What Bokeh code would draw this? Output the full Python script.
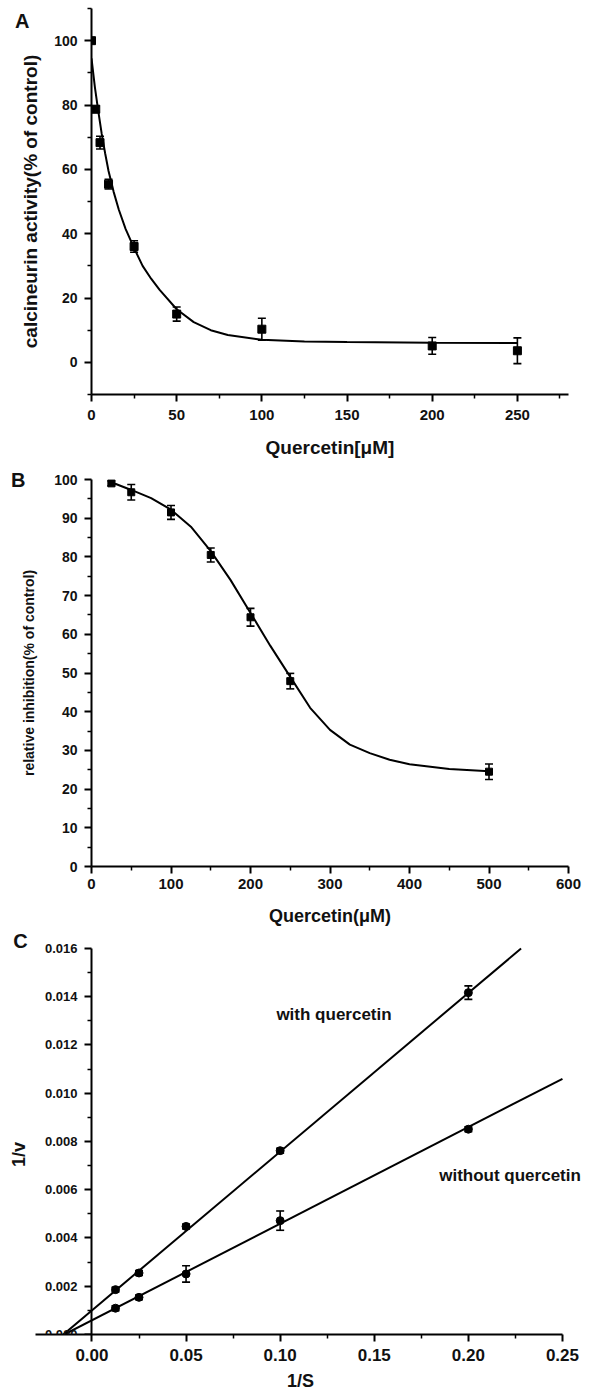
import math
from bokeh.plotting import figure
from bokeh.layouts import column
from bokeh.models import (ColumnDataSource, Whisker, TeeHead, FixedTicker, Label,
                          LinearAxis, PrintfTickFormatter, Range1d, Plot)
from bokeh.embed import file_html
from bokeh.resources import INLINE

FONT = "Liberation Sans"
INK = "#111111"

# ---------------- Panel A data ----------------
a_conc = [0, 2.5, 5, 10, 25, 50, 100, 200, 250]
a_activity = [100, 78.7, 68.3, 55.4, 36.0, 15.0, 10.3, 5.1, 3.6]
a_err = [0, 1.0, 2.0, 1.5, 1.8, 2.2, 3.4, 2.6, 4.0]
a_fit_x = [0, 2, 4, 6, 8, 10, 13, 16, 20, 25, 30, 35, 40, 50, 60, 70, 80, 100, 125, 150, 200, 250]
a_fit_y = [94.5, 85.5, 78.0, 71.0, 65.0, 59.5, 53.0, 47.5, 41.5, 35.5, 30.0, 26.0, 22.5,
           16.5, 12.5, 10.0, 8.5, 7.0, 6.5, 6.3, 6.1, 6.0]
a_xticks = [0, 50, 100, 150, 200, 250]
a_xminor = [25, 75, 125, 175, 225, 275]
a_yticks = [0, 20, 40, 60, 80, 100]
a_yminor = [-10, 10, 30, 50, 70, 90, 110]

# ---------------- Panel B data ----------------
b_conc = [25, 50, 100, 150, 200, 250, 500]
b_inhib = [99.0, 96.7, 91.5, 80.5, 64.4, 47.9, 24.5]
b_err = [0.6, 2.0, 1.8, 1.8, 2.3, 2.0, 2.0]
b_fit_x = [25, 50, 75, 100, 125, 150, 175, 200, 225, 250, 275, 300, 325, 350, 375, 400, 450, 500]
b_fit_y = [99.3, 97.3, 95.2, 92.2, 87.8, 81.5, 74.0, 65.5, 57.0, 49.0, 41.0, 35.3, 31.5,
           29.3, 27.6, 26.4, 25.2, 24.6]
b_xticks = [0, 100, 200, 300, 400, 500, 600]
b_xminor = [50, 150, 250, 350, 450, 550]
b_yticks = [0, 10, 20, 30, 40, 50, 60, 70, 80, 90, 100]
b_yminor = [5, 15, 25, 35, 45, 55, 65, 75, 85, 95]

# ---------------- Panel C data ----------------
c_inv_s = [0.0125, 0.025, 0.05, 0.1, 0.2]
c_with = [0.00186, 0.00255, 0.00448, 0.00762, 0.01417]
c_with_err = [0.0001, 0.0001, 0.0001, 0.0001, 0.00028]
c_without = [0.00109, 0.00154, 0.00251, 0.00472, 0.00851]
c_without_err = [0.0001, 0.0001, 0.00034, 0.0004, 0.0001]
c_with_line_x = [-0.0152, 0.228]
c_with_line_y = [0.0, 0.016]
c_without_line_x = [-0.0147, 0.25]
c_without_line_y = [0.0, 0.0106]
c_xticks = [0.0, 0.05, 0.10, 0.15, 0.20, 0.25]
c_xminor = [0.025, 0.075, 0.125, 0.175, 0.225]
c_yticks = [0.0, 0.002, 0.004, 0.006, 0.008, 0.010, 0.012, 0.014, 0.016]
c_yminor = [0.001, 0.003, 0.005, 0.007, 0.009, 0.011, 0.013, 0.015]

HAS_FRAME_ALIGN = "frame_align" in Plot.properties()


def make_fig(xr, yr, fw, fh, left, right, top, bottom, **kw):
    p = figure(x_range=Range1d(*xr), y_range=Range1d(*yr), frame_width=fw, frame_height=fh,
               min_border_left=left, min_border_right=right, min_border_top=top,
               min_border_bottom=bottom, output_backend="svg", toolbar_location=None, **kw)
    if HAS_FRAME_ALIGN:
        p.frame_align = False
    p.xgrid.visible = False
    p.ygrid.visible = False
    p.outline_line_color = None
    p.background_fill_color = "white"
    p.border_fill_color = "white"
    return p


def style_axis(ax, tick_size, label_size, label_standoff, tick_standoff=6):
    ax.axis_line_width = 2
    ax.axis_line_color = "black"
    ax.major_tick_line_width = 2
    ax.major_tick_line_color = "black"
    ax.minor_tick_line_width = 1.5
    ax.minor_tick_line_color = "black"
    ax.major_tick_in = 0
    ax.major_tick_out = 7
    ax.minor_tick_in = 0
    ax.minor_tick_out = 4
    ax.major_label_standoff = tick_standoff
    ax.major_label_text_font = FONT
    ax.major_label_text_font_style = "bold"
    ax.major_label_text_font_size = f"{tick_size}px"
    ax.major_label_text_color = INK
    ax.axis_label_text_font = FONT
    ax.axis_label_text_font_style = "bold"
    ax.axis_label_text_font_size = f"{label_size}px"
    ax.axis_label_text_color = INK
    ax.axis_label_standoff = label_standoff


def add_points(p, xs, ys, errs, marker, size):
    src = ColumnDataSource(dict(x=xs, y=ys,
                                upper=[y + e for y, e in zip(ys, errs)],
                                lower=[y - e for y, e in zip(ys, errs)]))
    w = Whisker(source=src, base="x", upper="upper", lower="lower", dimension="height",
                line_width=1.6, line_color="black",
                upper_head=TeeHead(size=8, line_width=1.6, line_color="black"),
                lower_head=TeeHead(size=8, line_width=1.6, line_color="black"))
    p.add_layout(w)
    p.scatter("x", "y", source=src, marker=marker, size=size, color="black")


def letter_axis(p, y, t, standoff):
    # panel letter, shown as the single label of a bare extra axis
    ax = LinearAxis(ticker=FixedTicker(ticks=[y], minor_ticks=[]),
                    major_label_overrides={y: t})
    ax.axis_line_color = None
    ax.major_tick_line_color = None
    ax.minor_tick_line_color = None
    ax.major_tick_in = 0
    ax.major_tick_out = 0
    ax.minor_tick_in = 0
    ax.minor_tick_out = 0
    ax.major_label_standoff = standoff
    ax.major_label_text_font = FONT
    ax.major_label_text_font_style = "bold"
    ax.major_label_text_font_size = "20px"
    ax.major_label_text_color = INK
    p.add_layout(ax, "left")


# ---------------- Panel A ----------------
pA = make_fig((0, 280), (-10, 110), 477, 386, 91, 37, 8, 71)
pA.line(a_fit_x, a_fit_y, line_width=2, color="black")
add_points(pA, a_conc, a_activity, a_err, "square", 8)
pA.xaxis.ticker = FixedTicker(ticks=a_xticks, minor_ticks=a_xminor)
pA.yaxis.ticker = FixedTicker(ticks=a_yticks, minor_ticks=a_yminor)
pA.xaxis.axis_label = "Quercetin[\u03bcM]"
pA.yaxis.axis_label = "calcineurin activity(% of control)"
style_axis(pA.xaxis[0], 15, 19, 14, 8)
style_axis(pA.yaxis[0], 14, 19, 10, 7)
letter_axis(pA, 106, "A", -12)

# ---------------- Panel B ----------------
pB = make_fig((0, 600), (0, 100), 477, 387, 91, 37, 14, 60)
pB.line(b_fit_x, b_fit_y, line_width=2, color="black")
add_points(pB, b_conc, b_inhib, b_err, "square", 7)
pB.xaxis.ticker = FixedTicker(ticks=b_xticks, minor_ticks=b_xminor)
pB.yaxis.ticker = FixedTicker(ticks=b_yticks, minor_ticks=b_yminor)
pB.xaxis.axis_label = "Quercetin(\u03bcM)"
pB.yaxis.axis_label = "relative inhibition(% of control)"
style_axis(pB.xaxis[0], 15, 18, 14, 5)
style_axis(pB.yaxis[0], 14, 14, 14, 7)
letter_axis(pB, 100, "B", -7)

# ---------------- Panel C ----------------
C_X0, C_PX = -0.0486, 1882.0          # frame left value, pixels per unit
C_FW = 600
C_X1 = C_X0 + C_FW / C_PX
C_Y1 = 0.016829
pC = make_fig((C_X0, C_X1), (0, C_Y1), C_FW, 406, 0, 4, 0, 63, y_axis_location=None)
yax = LinearAxis(fixed_location=0, bounds=(0, 0.016))
pC.add_layout(yax, "right")
pC.xaxis.bounds = (-0.03, 0.25)
pC.line(c_with_line_x, c_with_line_y, line_width=2, color="black")
pC.line(c_without_line_x, c_without_line_y, line_width=2, color="black")
add_points(pC, c_inv_s, c_with, c_with_err, "circle", 8)
add_points(pC, c_inv_s, c_without, c_without_err, "circle", 8)
pC.xaxis.ticker = FixedTicker(ticks=c_xticks, minor_ticks=c_xminor)
yax.ticker = FixedTicker(ticks=c_yticks, minor_ticks=c_yminor)
pC.xaxis.formatter = PrintfTickFormatter(format="%.2f")
yax.formatter = PrintfTickFormatter(format="%.3f")
pC.xaxis.axis_label = "1/S"
style_axis(pC.xaxis[0], 17, 18, 7, 7)
style_axis(yax, 13, 13, 0, -47)
yax.major_tick_out = 0
yax.major_tick_in = 7
yax.minor_tick_out = 0
yax.minor_tick_in = 4

for txt, lx, ly, ang, size, align in [
        ("C", C_X0 + 20 / C_PX, 0.01633, 0, "20px", "center"),
        ("1/v", C_X0 + 18 / C_PX, 0.00746, math.pi / 2, "18px", "center"),
        ("with quercetin", 0.098, 0.01327, 0, "17px", "left"),
        ("without quercetin", 0.1845, 0.0066, 0, "17px", "left")]:
    pC.add_layout(Label(x=lx, y=ly, text=txt, angle=ang, text_font=FONT,
                        text_font_style="bold", text_font_size=size, text_color=INK,
                        text_align=align, text_baseline="middle"))

layout = column(pA, pB, pC, spacing=0)
open("out.html", "w").write(file_html(layout, INLINE))
